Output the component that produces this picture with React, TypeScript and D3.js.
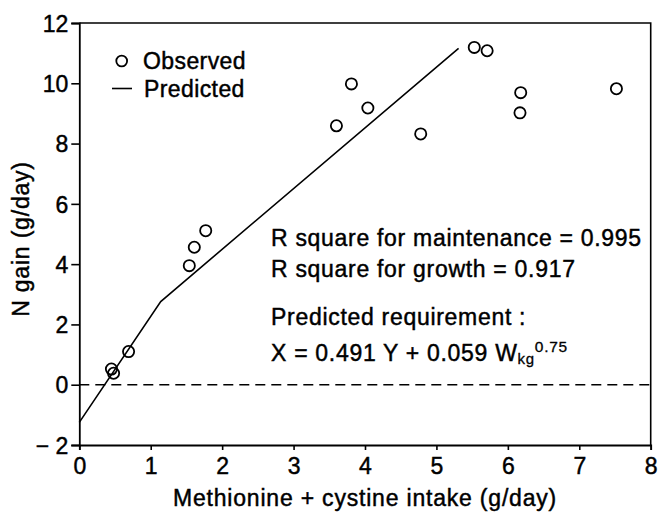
import React, { useEffect, useRef } from 'react';
import * as d3 from 'd3';

// observed N gain against methionine + cystine intake
const obsIntake = [0.45, 0.48, 0.69, 1.54, 1.61, 1.77, 3.6, 3.81, 4.04, 4.78, 5.53, 5.71, 6.18, 6.17, 7.52];
const obsGain = [0.52, 0.38, 1.1, 3.95, 4.56, 5.11, 8.59, 9.98, 9.18, 8.32, 11.19, 11.08, 9.69, 9.02, 9.82];

// predicted (broken) line
const predIntake = [0, 1.14, 5.31];
const predGain = [-1.25, 2.76, 11.16];

const xTicks = [0, 1, 2, 3, 4, 5, 6, 7, 8];
const yTicks = [-2, 0, 2, 4, 6, 8, 10, 12];

const W = 658;
const H = 517;
const FONT = '"Liberation Sans", Arial, Helvetica, sans-serif';

const App = () => {
  const ref = useRef<SVGSVGElement>(null);

  useEffect(() => {
    const svg = d3.select(ref.current);
    svg.selectAll('*').remove();

    const x = d3.scaleLinear().domain([0, 8]).range([79.3, 650.7]);
    const y = d3.scaleLinear().domain([-2, 12]).range([445, 23]);

    const g = svg.append('g').attr('font-family', FONT).attr('fill', '#000');

    // frame top + right
    g.append('path')
      .attr('d', `M${x(0)},${y(12)} H${x(8)} V${y(-2)}`)
      .attr('fill', 'none')
      .attr('stroke', '#000')
      .attr('stroke-width', 1.6);

    const yAxis = d3.axisLeft(y)
      .tickValues(yTicks)
      .tickSize(8)
      .tickPadding(3)
      .tickFormat((d: any) => (d < 0 ? '\u2212 ' + Math.abs(d) : String(d)));
    const ya = g.append('g').attr('transform', `translate(${x(0)},0)`).call(yAxis);

    const xAxis = d3.axisBottom(x)
      .tickValues(xTicks)
      .tickSize(5)
      .tickPadding(6)
      .tickFormat((d: any) => String(d));
    const xa = g.append('g').attr('transform', `translate(0,${y(-2)})`).call(xAxis);

    [ya, xa].forEach(a => {
      a.select('.domain').attr('stroke-width', 1.8);
      a.selectAll('.tick line').attr('stroke-width', 1.6);
      a.selectAll('.tick text')
        .attr('font-family', FONT)
        .attr('font-size', 23)
        .attr('fill', '#000')
        .attr('stroke', '#000')
        .attr('stroke-width', 0.45);
    });
    ya.selectAll('.tick text').attr('dy', '0.36em');
    xa.selectAll('.tick text').attr('dy', '0.8em');

    // zero reference line
    g.append('line')
      .attr('x1', x(0)).attr('x2', x(8))
      .attr('y1', y(0)).attr('y2', y(0))
      .attr('stroke', '#000')
      .attr('stroke-width', 1.5)
      .attr('stroke-dasharray', '10 6');

    // predicted line
    const line = d3.line<number>()
      .x((d, i) => x(predIntake[i]))
      .y(d => y(d));
    g.append('path')
      .attr('d', line(predGain))
      .attr('fill', 'none')
      .attr('stroke', '#000')
      .attr('stroke-width', 1.6);

    // observed points
    g.selectAll('.obs')
      .data(obsGain)
      .enter()
      .append('circle')
      .attr('class', 'obs')
      .attr('cx', (d, i) => x(obsIntake[i]))
      .attr('cy', d => y(d))
      .attr('r', 5.6)
      .attr('fill', 'none')
      .attr('stroke', '#000')
      .attr('stroke-width', 1.8);

    const txt = (xx: number, yy: number, s: string, ls = 0.7) =>
      g.append('text')
        .attr('x', xx).attr('y', yy)
        .attr('font-size', 23)
        .attr('letter-spacing', ls)
        .attr('stroke', '#000')
        .attr('stroke-width', 0.45)
        .text(s);

    // legend
    g.append('circle').attr('cx', 121.7).attr('cy', 61).attr('r', 5.4)
      .attr('fill', 'none').attr('stroke', '#000').attr('stroke-width', 1.8);
    txt(143, 68.5, 'Observed', 0.4);
    g.append('line').attr('x1', 112).attr('x2', 132).attr('y1', 88.5).attr('y2', 88.5)
      .attr('stroke', '#000').attr('stroke-width', 1.6);
    txt(144, 96.5, 'Predicted', 0.4);

    // annotations
    txt(271, 246, 'R square for maintenance = 0.995');
    txt(271, 277, 'R square for growth = 0.917');
    txt(271, 325, 'Predicted requirement :');
    const eq = txt(271, 361, '');
    eq.append('tspan').text('X = 0.491 Y + 0.059 W');
    eq.append('tspan').attr('font-size', 15).attr('stroke-width', 0.3).attr('dy', 3).text('kg');
    eq.append('tspan').attr('font-size', 15.5).attr('stroke-width', 0.3).attr('dy', -12).text('0.75');

    // axis titles
    txt(365, 506, 'Methionine + cystine intake (g/day)', 0.8).attr('text-anchor', 'middle');
    txt(0, 0, 'N gain (g/day)', 0.8)
      .attr('transform', `translate(28.5,${239}) rotate(-90)`)
      .attr('text-anchor', 'middle');
  }, []);

  return (
    <svg ref={ref} width={W} height={H}
      style={{ position: 'absolute', left: 0, top: 0, background: '#fff' }} />
  );
};

export default App;
